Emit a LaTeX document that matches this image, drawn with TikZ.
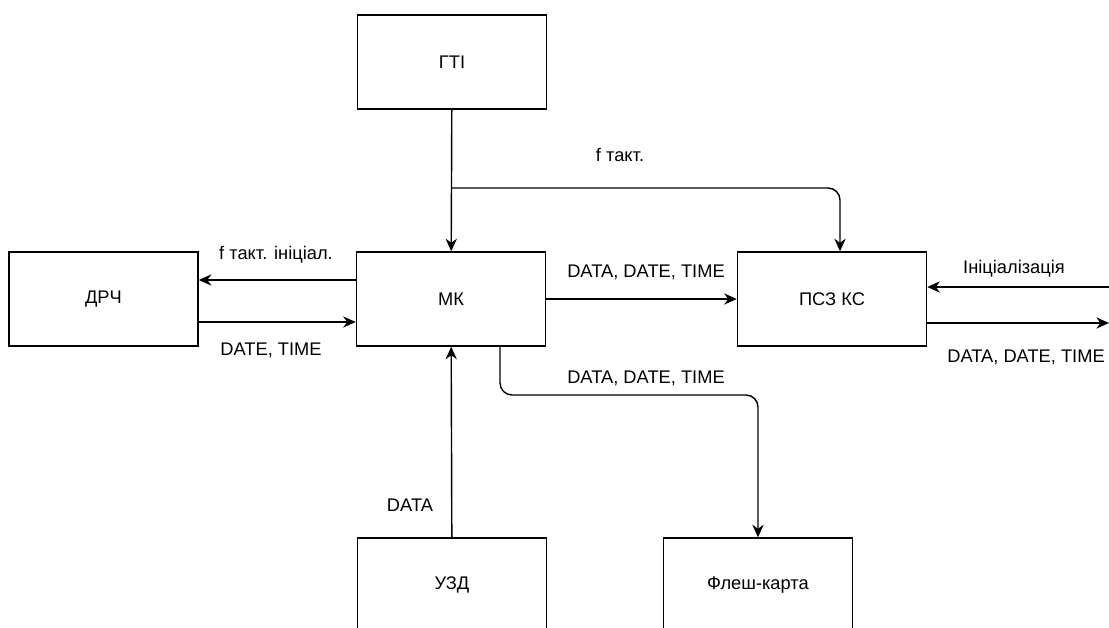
\documentclass[tikz,border=0pt]{standalone}
\usepackage{fontspec}
\setmainfont{Liberation Sans}
\usetikzlibrary{arrows.meta, positioning}

\begin{document}
\begin{tikzpicture}[
x=0.025cm, y=-0.025cm,
box/.style={rectangle, draw, line width=0.9pt, minimum height=2.35cm, minimum width=4.73cm, align=center, font=\fontsize{13}{15}\selectfont},
arrow/.style={-{Stealth[length=9pt, width=8pt]}, line width=1pt},
lbl/.style={font=\fontsize{13}{15}\selectfont, inner sep=0pt}
]
\useasboundingbox (0,0) rectangle (1109,628);
\clip (0,0) rectangle (1109,628);

\node[box] (gti) at (452,62) {ГТІ};
\node[box] (drch) at (103.5,299) {ДРЧ};
\node[box] (mk) at (451,299) {МК};
\node[box] (psz) at (832,299) {ПСЗ КС};
\node[box] (uzd) at (452,585) {УЗД};
\node[box] (flash) at (758,585) {Флеш-карта};

\coordinate (split) at (452,188);
\coordinate (bend) at (758,395);
\coordinate (initin) at (1109,287);
\coordinate (dataout) at (1109,323);

\draw[arrow] (gti) -- (mk);
\draw[arrow, rounded corners=0.3cm] (split) -| ([xshift=0.2cm]psz.north);
\draw[arrow] ([yshift=0.475cm]mk.west) -- ([yshift=0.475cm]drch.east);
\draw[arrow] ([yshift=-0.575cm]drch.east) -- ([yshift=-0.575cm]mk.west);
\draw[arrow] (mk) -- (psz);
\draw[arrow] (initin) -- (initin -| psz.east);
\draw[arrow] (dataout -| psz.east) -- (dataout);
\draw[arrow, rounded corners=0.3cm] ([xshift=1.225cm]mk.south) |- (bend) -- (flash.north);
\draw[arrow] (uzd) -- (mk);

\node[lbl] (ftakt) at (620,155) {f такт.};
\node[lbl] (ftaktinit) at (276,255) {f такт. ініціал.};
\node[lbl] (datetime) at (271,350) {DATE, TIME};
\node[lbl] (mkdata) at (646,272) {DATA, DATE, TIME};
\node[lbl] (init) at (1014,269) {Ініціалізація};
\node[lbl] (outdata) at (1026,357) {DATA, DATE, TIME};
\node[lbl] (flashdata) at (646,378) {DATA, DATE, TIME};
\node[lbl] (uzddata) at (410,505) {DATA};
\end{tikzpicture}
\end{document}
